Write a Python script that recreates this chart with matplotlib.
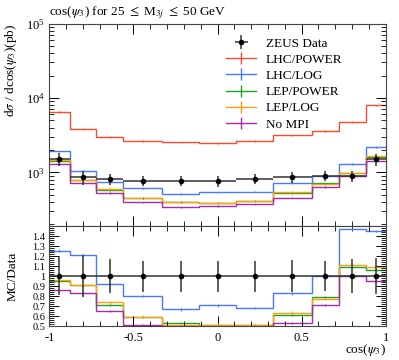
import numpy as np
import matplotlib
matplotlib.use("Agg")
from matplotlib import pyplot as plt
from matplotlib.ticker import MultipleLocator, FixedLocator, LogLocator, NullFormatter, FormatStrFormatter
from matplotlib.lines import Line2D

plt.rcParams['font.family'] = 'Liberation Serif'
plt.rcParams['mathtext.fontset'] = 'stix'
plt.rcParams['font.size'] = 9

# bins in cos(psi3)
edges = [-1, -0.88, -0.72, -0.56, -0.33, -0.11, 0.11, 0.33, 0.56, 0.72, 0.88, 1]

# ZEUS data (pb) and relative errors
data = [1520, 865, 810, 771, 765, 762, 815, 865, 895, 890, 1500]
data_relerr = [0.19, 0.21, 0.17, 0.155, 0.155, 0.155, 0.155, 0.16, 0.15, 0.17, 0.18]

# MC predictions (pb)
lhc_power = [6460, 3880, 3010, 2634, 2530, 2500, 2660, 3142, 3624, 4787, 7953]
lhc_log = [1906, 1048, 744, 616, 510, 538, 552, 714, 892, 1307, 2178]
lep_power = [1441, 783, 575, 455, 402, 392, 416, 528, 709, 969, 1584]
lep_log = [1465, 783, 597, 458, 394, 389, 412, 548, 688, 984, 1634]
no_mpi = [1304, 714, 529, 395, 337, 354, 371, 457, 635, 890, 1421]

labels = ['LHC/POWER', 'LHC/LOG', 'LEP/POWER', 'LEP/LOG', 'No MPI']
colors = ['#ff4a2a', '#4a78ff', '#20a020', '#ffa010', '#a82aaa']
mc_sets = [lhc_power, lhc_log, lep_power, lep_log, no_mpi]

edges = np.array(edges)
centers = 0.5 * (edges[1:] + edges[:-1])
halfw = 0.5 * (edges[1:] - edges[:-1])
data = np.array(data, dtype=float)
derr = data * np.array(data_relerr)

fig = plt.figure(figsize=(3.99, 3.6), dpi=100)
ax = fig.add_axes([0.1236, 0.3722, 0.8431, 0.5625])
rax = fig.add_axes([0.1236, 0.0944, 0.8431, 0.2778])

data_col = '#333333'
for vals, col in zip(mc_sets, colors):
    vals = np.array(vals, dtype=float)
    ax.stairs(vals, edges, color=col, lw=1.0, baseline=None)
    ax.errorbar(centers, vals, yerr=vals * 0.025, fmt='none', ecolor=col, elinewidth=0.8)
    r = vals / data
    rax.stairs(r, edges, color=col, lw=1.0, baseline=None)
    rax.errorbar(centers, r, yerr=0.012, fmt='none', ecolor=col, elinewidth=0.8)

dh = ax.errorbar(centers, data, xerr=halfw, yerr=derr, fmt='o', color='black', ecolor=data_col,
                 markersize=3, elinewidth=1.1, zorder=5)
rax.errorbar(centers, np.ones_like(data), xerr=halfw, yerr=np.array(data_relerr), fmt='o',
             color='black', ecolor=data_col, markersize=3, elinewidth=1.1, zorder=5)

ax.set_yscale('log')
ax.set_xlim(-1, 1)
ax.set_ylim(190, 1e5)
rax.set_xlim(-1, 1)
rax.set_ylim(0.5, 1.5)

for a in (ax, rax):
    a.tick_params(which='both', direction='in', top=True, right=True, labelsize=9)
    a.tick_params(which='major', length=7, width=0.7)
    a.tick_params(which='minor', length=3.5, width=0.6)
    a.xaxis.set_major_locator(MultipleLocator(0.5))
    a.xaxis.set_minor_locator(MultipleLocator(0.1))
    for s in a.spines.values():
        s.set_linewidth(0.8)
        s.set_color('#444444')

ax.set_xticklabels([])
ax.yaxis.set_major_locator(LogLocator(base=10, numticks=10))
ax.yaxis.set_minor_locator(LogLocator(base=10, subs=np.arange(2, 10), numticks=10))
ax.yaxis.set_minor_formatter(NullFormatter())

rax.yaxis.set_major_locator(FixedLocator([0.5, 0.6, 0.7, 0.8, 0.9, 1.0, 1.1, 1.2, 1.3, 1.4]))
rax.yaxis.set_minor_locator(MultipleLocator(0.02))
rax.yaxis.set_major_formatter(FormatStrFormatter('%g'))
rax.tick_params(axis='y', labelsize=7.5, pad=3)
rax.set_xticks([-1, -0.5, 0, 0.5, 1])
rax.set_xticklabels(['-1', '-0.5', '0', '0.5', '1'])
rax.tick_params(axis='x', pad=4)

ax.set_ylabel(r'd$\sigma$ / dcos($\psi_3$)(pb)', loc='top', fontsize=9.5)
rax.set_ylabel('MC/Data', fontsize=9.5)
rax.set_xlabel(r'cos($\psi_3$)', loc='right', fontsize=9.5, labelpad=-1)
ax.yaxis.set_label_coords(-0.09, 1.0)
rax.yaxis.set_label_coords(-0.09, 0.5)
ax.set_title(r'cos($\psi_3$) for 25 $\leq$ M$_{3j}$ $\leq$ 50 GeV', loc='left', fontsize=9.5, pad=6)

handles = [dh] + [Line2D([], [], color=c, lw=1.0, marker='|', markersize=8) for c in colors]
ax.legend(handles, ['ZEUS Data'] + labels, loc='upper left', bbox_to_anchor=(0.49, 0.99),
          frameon=False, fontsize=9.5, handlelength=2.3, handletextpad=0.7, labelspacing=0.3)

fig.savefig('out.png', dpi=100)
